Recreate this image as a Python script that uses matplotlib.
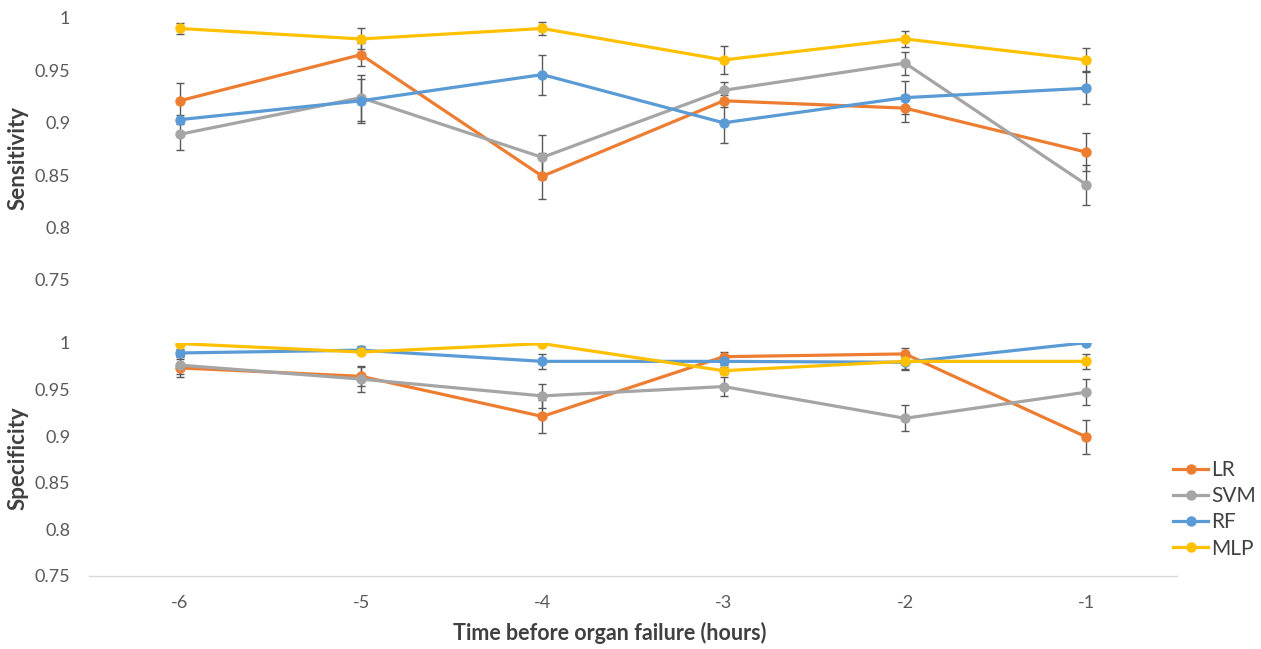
import matplotlib
matplotlib.use("Agg")
import matplotlib.pyplot as plt

plt.rcParams['font.family'] = ['Lato', 'DejaVu Sans']

hours = [-6, -5, -4, -3, -2, -1]
x_labels = ['-6', '-5', '-4', '-3', '-2', '-1']
y_ticks = [0.75, 0.8, 0.85, 0.9, 0.95, 1.0]
y_labels = ['0.75', '0.8', '0.85', '0.9', '0.95', '1']

models = ['LR', 'SVM', 'RF', 'MLP']
colors = ['#ED7D31', '#A5A5A5', '#5B9BD5', '#FFC000']

sens_lr = [0.921, 0.965, 0.849, 0.921, 0.914, 0.872]
sens_svm = [0.889, 0.924, 0.867, 0.931, 0.957, 0.841]
sens_rf = [0.903, 0.921, 0.946, 0.900, 0.924, 0.933]
sens_mlp = [0.990, 0.980, 0.990, 0.960, 0.980, 0.960]

sens_lr_err = [0.017, 0.011, 0.022, 0.006, 0.013, 0.018]
sens_svm_err = [0.015, 0.022, 0.021, 0.008, 0.011, 0.019]
sens_rf_err = [0.004, 0.021, 0.019, 0.019, 0.016, 0.015]
sens_mlp_err = [0.005, 0.010, 0.006, 0.013, 0.008, 0.011]

spec_lr = [0.973, 0.964, 0.921, 0.985, 0.988, 0.899]
spec_svm = [0.976, 0.961, 0.943, 0.953, 0.919, 0.947]
spec_rf = [0.989, 0.992, 0.980, 0.980, 0.979, 1.000]
spec_mlp = [0.999, 0.990, 0.999, 0.970, 0.980, 0.980]

spec_lr_err = [0.010, 0.010, 0.018, 0.005, 0.006, 0.018]
spec_svm_err = [0.010, 0.014, 0.013, 0.010, 0.014, 0.014]
spec_rf_err = [0.004, 0.004, 0.008, 0.004, 0.008, 0.000]
spec_mlp_err = [0.000, 0.002, 0.000, 0.004, 0.008, 0.008]

sens = [sens_lr, sens_svm, sens_rf, sens_mlp]
sens_err = [sens_lr_err, sens_svm_err, sens_rf_err, sens_mlp_err]
spec = [spec_lr, spec_svm, spec_rf, spec_mlp]
spec_err = [spec_lr_err, spec_svm_err, spec_rf_err, spec_mlp_err]

W, H = 1261, 649
fig = plt.figure(figsize=(W / 100, H / 100), dpi=100)

left = 89 / W
width = (1177 - 89) / W
ax1 = fig.add_axes([left, 1 - 280 / H, width, (280 - 18) / H])
ax2 = fig.add_axes([left, 1 - 576 / H, width, (576 - 342.7) / H])

tick_color = '#595959'
label_color = '#404040'
handles = []
for ax, vals, errs in [(ax1, sens, sens_err), (ax2, spec, spec_err)]:
    for name, c, v, e in zip(models, colors, vals, errs):
        ax.errorbar(hours, v, yerr=e, fmt='none', ecolor='#595959',
                    elinewidth=1.0, capsize=3, capthick=1.0, zorder=2)
        ln, = ax.plot(hours, v, color=c, lw=2.3, marker='o', ms=6.5,
                      label=name, zorder=3)
        if ax is ax2:
            handles.append(ln)
    ax.set_xlim(-6.5, -0.5)
    ax.set_ylim(0.75, 1.0)
    ax.set_yticks(y_ticks)
    ax.set_yticklabels(y_labels)
    ax.tick_params(axis='y', length=0, pad=13.5, labelsize=13, labelcolor=tick_color)
    for s in ['top', 'right', 'left']:
        ax.spines[s].set_visible(False)

ax1.spines['bottom'].set_visible(False)
ax1.set_xticks([])
ax2.spines['bottom'].set_color('#D9D9D9')
ax2.spines['bottom'].set_linewidth(1.0)
ax2.set_xticks(hours)
ax2.set_xticklabels(x_labels)
ax2.tick_params(axis='x', length=0, pad=14, labelsize=13, labelcolor=tick_color)

fig.text(18 / W, 1 - 158 / H, 'Sensitivity', rotation=90, fontsize=16,
         fontweight='bold', color=label_color, ha='center', va='center')
fig.text(18 / W, 1 - 458 / H, 'Specificity', rotation=90, fontsize=16,
         fontweight='bold', color=label_color, ha='center', va='center')

fig.text(610 / W, 1 - 633 / H, 'Time before organ failure (hours)', fontsize=15.5,
         fontweight='bold', color=label_color, ha='center', va='center')

fig.legend(handles=handles, labels=models, loc='upper left',
           bbox_to_anchor=(1173 / W, 1 - 460 / H), frameon=False,
           fontsize=15, handlelength=1.7, handletextpad=0.15,
           labelspacing=0.3, borderpad=0, borderaxespad=0,
           labelcolor=label_color)

fig.savefig('out.png', dpi=100)
